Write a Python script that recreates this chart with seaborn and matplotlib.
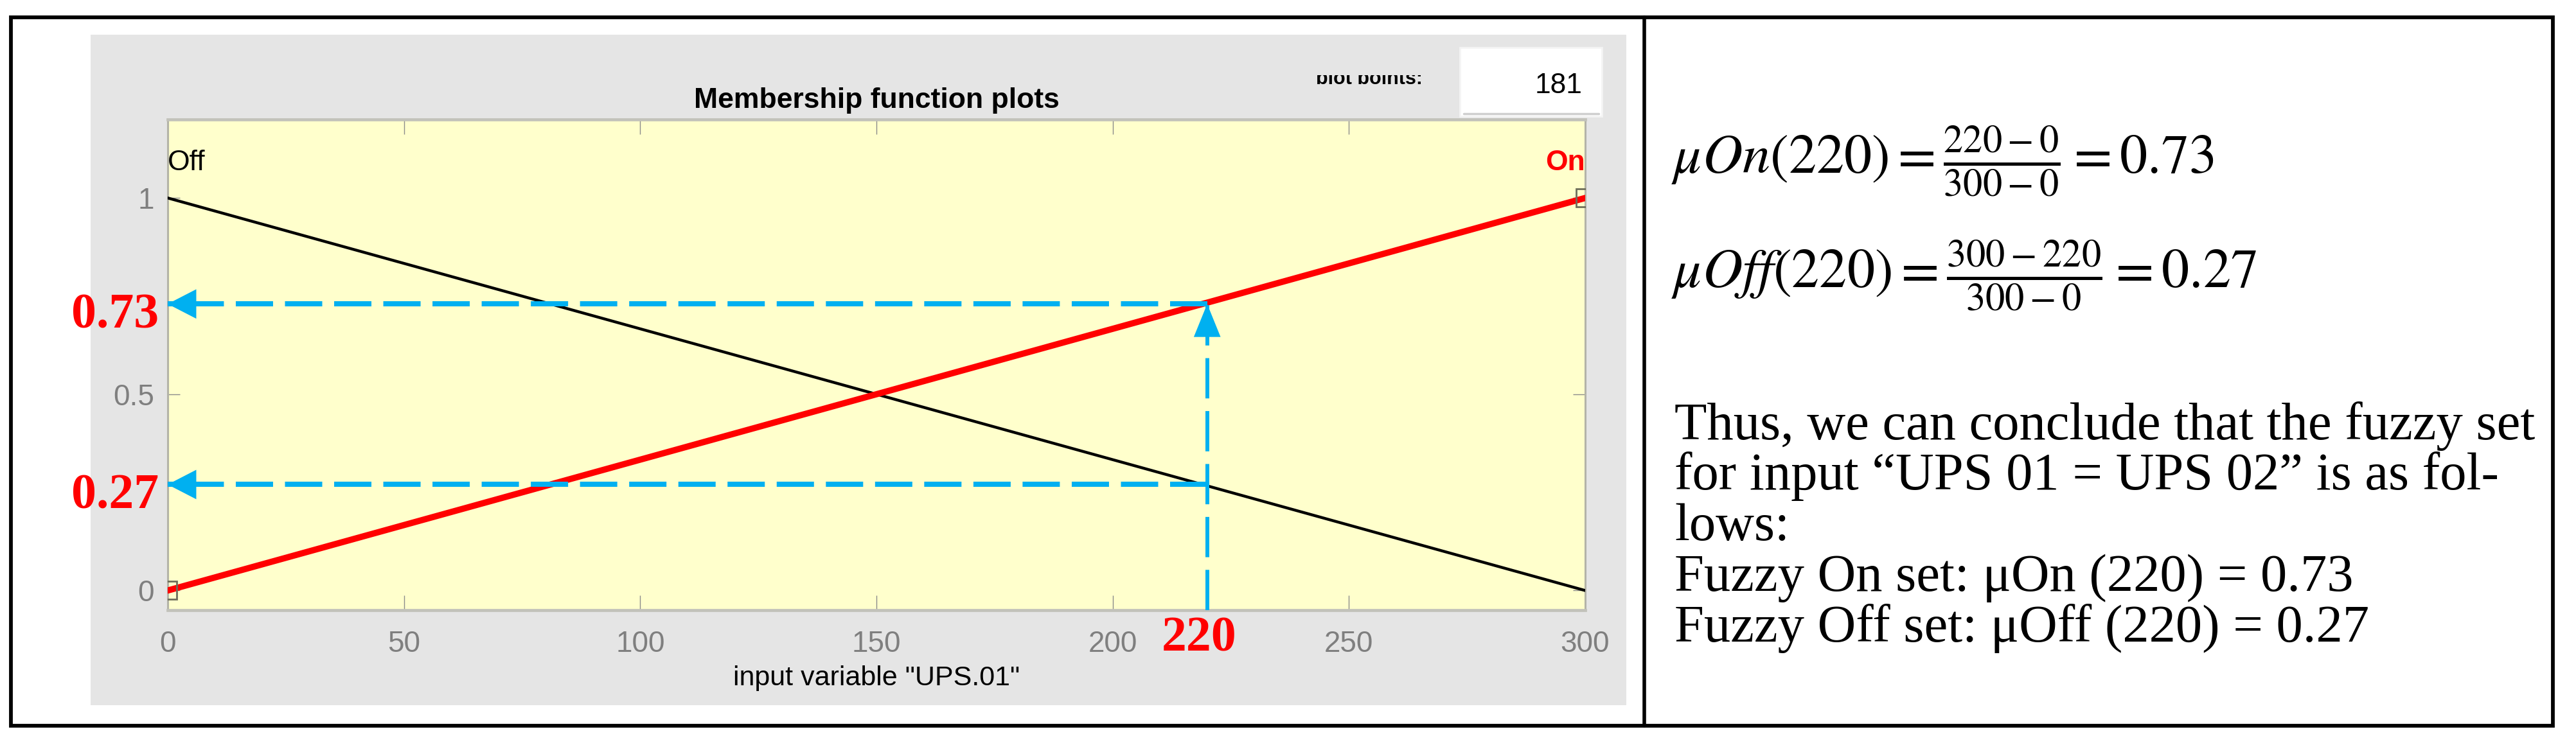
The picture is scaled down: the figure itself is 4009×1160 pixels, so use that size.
import numpy as np
import pandas as pd
import matplotlib
matplotlib.use("Agg")
import matplotlib.pyplot as plt
import seaborn as sns
from matplotlib.patches import Rectangle
from matplotlib.lines import Line2D
from matplotlib.transforms import Bbox, TransformedBbox

# ---------------- data ----------------
input_x = [0, 300]
mu_off = [1, 0]
mu_on = [0, 1]
mf_names = ["Off", "On"]
query_x = 220
query_on = 0.73
query_off = 0.27
xticks = [0, 50, 100, 150, 200, 250, 300]
yticks = [0, 0.5, 1]
ytick_labels = ["0", "0.5", "1"]
plot_points = "181"
formula_on = r"$\mu On(220) = \frac{220-0}{300-0} = 0.73$"
formula_off = r"$\mu Off(220) = \frac{300-220}{300-0} = 0.27$"
paragraph = [
    "Thus, we can conclude that the fuzzy set",
    "for input \u201cUPS 01 = UPS 02\u201d is as fol-",
    "lows:",
    "Fuzzy On set: \u03bcOn (220) = 0.73",
    "Fuzzy Off set: \u03bcOff (220) = 0.27",
]

# ---------------- style ----------------
sns.set_style("white")
plt.rcParams["font.family"] = ["Liberation Sans", "DejaVu Sans"]
plt.rcParams["mathtext.fontset"] = "stix"

W, H = 4009, 1160
fig = plt.figure(figsize=(W / 100, H / 100), dpi=100)
fig.patch.set_facecolor("white")


def fx(px):
    return px / W


def fy(py):
    return 1 - py / H


BLUE = "#00B0F0"

# gray MATLAB panel
fig.add_artist(Rectangle((fx(141), fy(1098)), (2531 - 141) / W, (1098 - 54) / H,
                         transform=fig.transFigure, fc="#E5E5E5", ec="none", zorder=-2))
# plot points box
fig.add_artist(Rectangle((fx(2272), fy(181)), (2493 - 2272) / W, (181 - 74) / H,
                         transform=fig.transFigure, fc="white", ec="#F4F4F4", lw=2, zorder=-1))
fig.add_artist(Line2D([fx(2278), fx(2488)], [fy(177), fy(177)], transform=fig.transFigure,
                      color="#CFCFCF", lw=2.5, zorder=-1))

# outer table frame
fig.add_artist(Rectangle((fx(17), fy(1130)), (3973 - 17) / W, (1130 - 27) / H,
                         transform=fig.transFigure, fill=False, ec="black", lw=4.2, zorder=10))
fig.add_artist(Line2D([fx(2559), fx(2559)], [fy(27), fy(1130)], transform=fig.transFigure,
                      color="black", lw=4.0, zorder=10))

# ---------------- axes ----------------
ax = fig.add_axes([fx(261), fy(950), (2467 - 261) / W, (950 - 186) / H])
ax.set_facecolor("#FFFFCC")

sns.lineplot(x=input_x, y=mu_off, color="black", lw=3.2, ax=ax, zorder=3)
sns.lineplot(x=input_x, y=mu_on, color="red", lw=7.0, ax=ax, zorder=3)
ax.plot(input_x, mu_on, ls="none", marker="s", ms=20, mfc="none", mec="#6E6E5A", mew=2, zorder=4)

ax.set_xlim(0, 300)
ax.set_ylim(-0.05, 1.2)
ax.set_xticks(xticks)
ax.set_yticks(yticks, ytick_labels)
ax.tick_params(axis="x", direction="in", length=16.5, width=1, color="#8C8C8C", top=True,
               bottom=True, labelsize=33, labelcolor="#7F7F7F", pad=22)
ax.tick_params(axis="y", direction="in", length=14, width=1, color="#8C8C8C", left=True,
               right=True, labelsize=33, labelcolor="#7F7F7F", pad=15)
for name, s in ax.spines.items():
    s.set_visible(True)
    if name in ("top", "bottom"):
        s.set_color("#C2C2BA")
        s.set_linewidth(3.4)
    else:
        s.set_color("#B4B4A8")
        s.set_linewidth(2.2)

ax.set_title("Membership function plots", fontsize=32, fontweight="bold", pad=13, color="black")
ax.set_xlabel('input variable "UPS.01"', fontsize=31, color="black", labelpad=8)
ax.set_ylabel("")

ax.text(input_x[0], 1.07, mf_names[0], fontsize=32, ha="left", va="baseline", color="black")
ax.text(input_x[1], 1.07, mf_names[1], fontsize=32, ha="right", va="baseline", color="red",
        fontweight="bold")

# dashed guide lines
ylo = ax.get_ylim()[0]
ax.plot([query_x, 0], [query_on, query_on], color=BLUE, lw=5.8, ls=(0, (7.2, 2.3)),
        dash_capstyle="butt", zorder=5)
ax.plot([query_x, 0], [query_off, query_off], color=BLUE, lw=5.8, ls=(0, (7.2, 2.3)),
        dash_capstyle="butt", zorder=5)
ax.plot([query_x, query_x], [ylo, query_on], color=BLUE, lw=4.3, ls=(0, (10.5, 3.3)),
        dash_capstyle="butt", zorder=5, clip_on=False)

head_h = dict(arrowstyle="-|>,head_length=32,head_width=16.5", mutation_scale=1,
              fc=BLUE, ec="none", lw=0, shrinkA=0, shrinkB=0)
head_v = dict(arrowstyle="-|>,head_length=37,head_width=15", mutation_scale=1,
              fc=BLUE, ec="none", lw=0, shrinkA=0, shrinkB=0)
for yv in (query_on, query_off):
    ax.annotate("", xy=(0, yv), xytext=(40, yv), arrowprops=head_h,
                annotation_clip=False, zorder=6)
ax.annotate("", xy=(query_x, query_on), xytext=(query_x, query_on - 0.3), arrowprops=head_v,
            annotation_clip=False, zorder=6)

red_kw = dict(color="red", fontsize=56, fontweight="bold", family="Liberation Serif",
              textcoords="offset pixels", annotation_clip=False)
ax.annotate(f"{query_on:.2f}", xy=(0, query_on), xytext=(-14, -37), ha="right", va="baseline", **red_kw)
ax.annotate(f"{query_off:.2f}", xy=(0, query_off), xytext=(-14, -37), ha="right", va="baseline", **red_kw)
ax.annotate(f"{query_x}", xy=(query_x, ylo), xytext=(-13, -64), ha="center", va="baseline", **red_kw)

# plot points widgets
fig.text(fx(2462), fy(145), plot_points, ha="right", va="baseline", fontsize=32, color="black")
t = fig.text(fx(2048), fy(131), "plot points:", ha="left", va="baseline", fontsize=22,
             fontweight="bold", color="black")
t.set_clip_box(TransformedBbox(Bbox([[fx(2040), fy(131)], [fx(2262), fy(117)]]), fig.transFigure))
t.set_clip_on(True)

# ---------------- right column ----------------
fig.text(fx(2601), fy(270), formula_on, fontsize=62, ha="left", va="baseline", color="black")
fig.text(fx(2601), fy(448), formula_off, fontsize=62, ha="left", va="baseline", color="black")
for line, base in zip(paragraph, [684, 762, 841, 920, 999]):
    fig.text(fx(2606), fy(base), line, fontsize=59.5, ha="left", va="baseline",
             family=["Liberation Serif", "DejaVu Serif"], color="black")

fig.savefig("out.png", dpi=100, facecolor="white")
